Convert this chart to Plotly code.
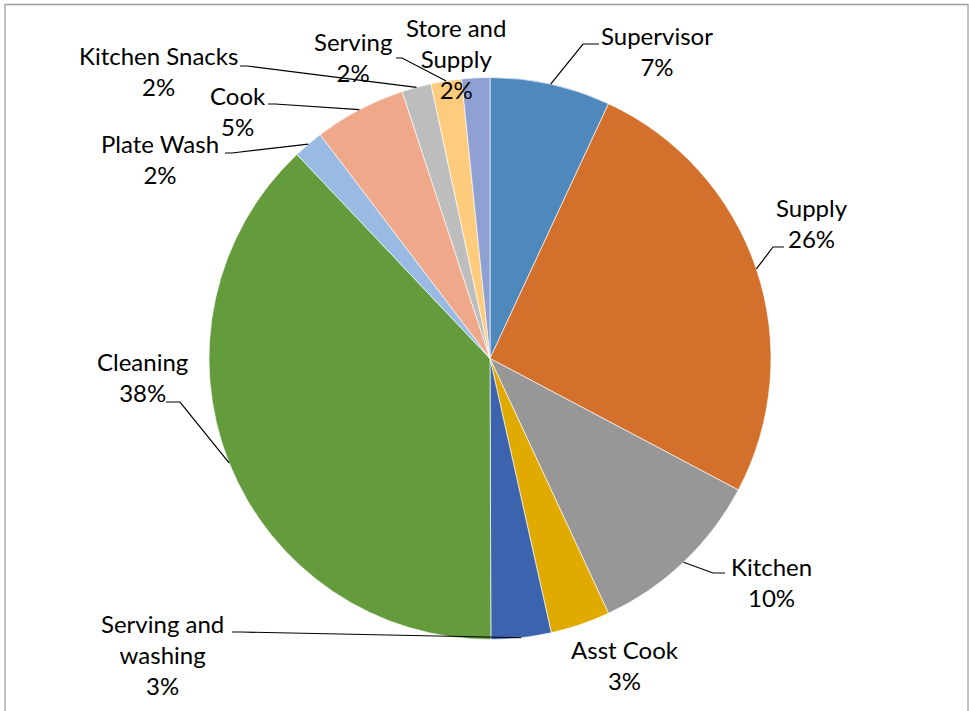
import math
import plotly.graph_objects as go

# ---- data ----
categories = ["Supervisor", "Supply", "Kitchen", "Asst Cook", "Serving and washing",
              "Cleaning", "Plate Wash", "Cook", "Kitchen Snacks", "Serving", "Store and Supply"]
shares = [6.93, 25.82, 10.32, 3.43, 3.45, 37.99, 1.73, 5.27, 1.69, 1.76, 1.61]
label_texts = ["Supervisor", "Supply", "Kitchen", "Asst Cook", "Serving and<br>washing",
               "Cleaning", "Plate Wash", "Cook", "Kitchen Snacks", "Serving", "Store and<br>Supply"]
colors = ["#4F88BD", "#D3702B", "#979797", "#E1AA00", "#3C64AE", "#639B3D",
          "#99BAE3", "#F0A88A", "#BDBDBD", "#FFCC7D", "#8FA1D3"]

# ---- layout (pixels) ----
W, H = 969, 711
CX, CY, R = 490, 358.5, 281

# label centre positions (px) and leader-line stubs (start, bend) per category
label_pos = {
    "Supervisor": (657, 51), "Supply": (812, 222.5), "Kitchen": (771, 581.5),
    "Asst Cook": (625, 664.5), "Serving and washing": (162, 654.5), "Cleaning": (142, 377),
    "Plate Wash": (160, 159), "Cook": (238, 111), "Kitchen Snacks": (158, 71.5),
    "Serving": (353, 57), "Store and Supply": (456, 58.5),
}
stubs = {
    "Supervisor": ((599, 44), (583, 44)),
    "Supply": ((784, 247), (773, 247)),
    "Kitchen": ((725, 573), (713, 573)),
    "Serving and washing": ((232, 632), (241, 632)),
    "Cleaning": ((166, 402), (180, 402)),
    "Plate Wash": ((225, 153), (232, 153)),
    "Cook": ((268, 104), (275, 104)),
    "Kitchen Snacks": ((240, 66), (247, 66)),
    "Serving": ((396, 58), (402, 58)),
}

def px(x):
    return x / W

def py(y):
    return 1 - y / H

total = sum(shares)

fig = go.Figure(go.Pie(
    labels=categories, values=shares, sort=False, direction="clockwise", rotation=0,
    marker=dict(colors=colors, line=dict(color="rgba(255,255,255,0.8)", width=0.8)),
    textinfo="none", hoverinfo="label+percent", showlegend=False,
    domain=dict(x=[px(CX - R), px(CX + R)], y=[py(CY + R), py(CY - R)]),
))

annotations = []
shapes = []
cum = 0.0
for cat, v, txt in zip(categories, shares, label_texts):
    mid = 2 * math.pi * (cum + v / 2) / total
    cum += v
    ex = CX + R * math.sin(mid)
    ey = CY - R * math.cos(mid)
    lx, ly = label_pos[cat]
    pct = round(100 * v / total)
    annotations.append(dict(
        x=px(lx), y=py(ly), xref="paper", yref="paper", showarrow=False,
        text=f"{txt}<br>{pct}%", xanchor="center", yanchor="middle", align="center",
        font=dict(family="Lato, Open Sans, sans-serif", size=24, color="#000000"),
    ))
    if cat in stubs:
        (sx, sy), (bx, by) = stubs[cat]
        path = f"M {px(sx)} {py(sy)} L {px(bx)} {py(by)} L {px(ex)} {py(ey)}"
        shapes.append(dict(type="path", xref="paper", yref="paper", path=path,
                           line=dict(color="#000000", width=1.2)))

# chart border
shapes.append(dict(type="rect", xref="paper", yref="paper",
                   x0=px(5), x1=px(968), y0=-0.02, y1=py(4.5),
                   line=dict(color="#A0A0A0", width=1.3), fillcolor="rgba(0,0,0,0)"))

fig.update_layout(
    width=W, height=H, margin=dict(l=0, r=0, t=0, b=0),
    paper_bgcolor="white", plot_bgcolor="white",
    annotations=annotations, shapes=shapes,
)

fig.write_html("out.html")
